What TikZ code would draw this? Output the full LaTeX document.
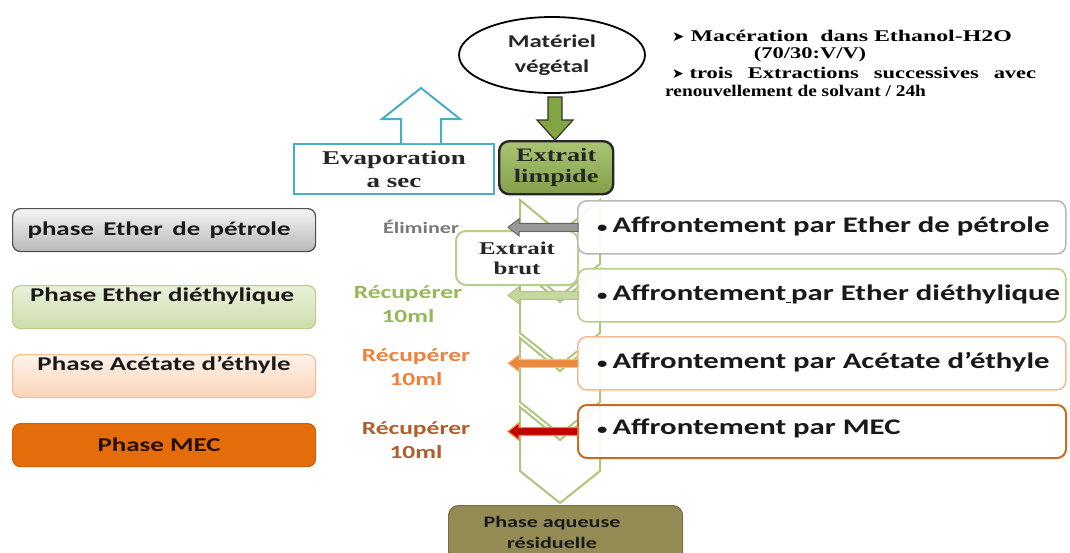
\documentclass[tikz,border=0pt]{standalone}
\usepackage{fontspec}
\usetikzlibrary{shapes.geometric,calc}
\newfontfamily\calfont[FakeStretch=1.38]{Carlito}
\newfontfamily\tnrfont[FakeStretch=1.38]{Liberation Serif}
\newfontfamily\symfont{DejaVu Sans}
\newcommand\myfs[2]{\fontsize{#1}{#2}\selectfont}
\newcommand\pointer{{\symfont\myfs{14}{14}➤}}
\definecolor{chevg}{RGB}{172,198,122}
\definecolor{lgreen}{RGB}{183,207,135}
\definecolor{teal}{RGB}{75,172,198}
\definecolor{oliveg}{RGB}{155,187,89}
\definecolor{oliveb}{RGB}{148,138,84}
\definecolor{orng}{RGB}{228,108,10}
\definecolor{peach}{RGB}{246,188,145}
\definecolor{greytxt}{RGB}{120,120,120}
\definecolor{greentxt}{RGB}{150,185,85}
\definecolor{orangetxt}{RGB}{240,128,60}
\definecolor{browntxt}{RGB}{175,95,45}
\definecolor{arrgreen}{RGB}{130,165,65}
\newcommand\blockarrow[3]{%
  \path[#3] ($(#1.west)+(1,-4)$) -- ($(#2)+(11,-4)$) -- ($(#2)+(11,-8.5)$) -- (#2)
    -- ($(#2)+(11,8.5)$) -- ($(#2)+(11,4)$) -- ($(#1.west)+(1,4)$) -- cycle;}
\begin{document}
\begin{tikzpicture}[x=1pt,y=-1pt,
  chev/.style={draw=chevg,line width=2pt,fill=white},
  rbox/.style={draw,line width=1.6pt,fill=white,fill opacity=0.92,rounded corners=9pt,minimum width=488pt,minimum height=53pt,anchor=north west,inner sep=0pt},
  pbox/.style={draw,line width=1.2pt,rounded corners=8pt,minimum width=303pt,minimum height=43pt,anchor=north west,inner sep=0pt},
  caltxt/.style={font=\calfont\bfseries\myfs{19.5}{22},text=black!90,inner sep=0pt},
  afftxt/.style={font=\calfont\bfseries\myfs{22.3}{26},text=black!90,anchor=west,inner sep=0pt},
  midtxt/.style={font=\calfont\bfseries\myfs{18.5}{23.5},align=center,inner sep=0pt},
  sertxt/.style={font=\tnrfont\bfseries\myfs{16.3}{18},text=black,anchor=west,inner sep=0pt},
]
\useasboundingbox (0,0) rectangle (1070,552);
\clip (0,0) rectangle (1070,552);
\fill[white] (0,0) rectangle (1070,552);

% top ellipse
\node[ellipse,draw,line width=1.8pt,fill=white,minimum width=186pt,minimum height=76pt,inner sep=0pt,
      font=\calfont\bfseries\myfs{18}{25},text=black!85,align=center] (mat) at (552,55) {Matériel\\végétal};

% side text
\node[sertxt] (l1) at (672,36) {\scalebox{1.06}[1]{\pointer\ Macération\ \ dans Ethanol-H2O}};
\node[sertxt,anchor=center] (l2) at (810,55) {(70/30:V/V)};
\node[sertxt] (l3) at (672,73) {\makebox[364pt][s]{\pointer\ trois\hfill Extractions\hfill successives\hfill avec}};
\node[sertxt] (l4) at (665,91) {\scalebox{0.86}[1]{renouvellement de solvant / 24h}};

% extrait limpide
\node[draw=black!85,line width=2.4pt,rounded corners=10pt,top color=oliveg!85!white,bottom color=oliveg!85!black,
      minimum width=114pt,minimum height=53pt,inner sep=0pt,anchor=north west,
      font=\tnrfont\bfseries\myfs{19}{21},text=black!85,align=center] (lim) at (498,140) {Extrait\\limpide};

% down arrow
\coordinate (dtop) at (555,97);
\path[fill=arrgreen,draw=black!80,line width=1.2pt]
  ($(dtop)+(-7,0)$) -- ($(dtop)+(7,0)$) -- ($(dtop)+(7,23)$) -- ($(dtop)+(18,23)$)
  -- (lim.north -| dtop) -- ($(dtop)+(-18,23)$) -- ($(dtop)+(-7,23)$) -- cycle;

% evaporation
\node[draw=teal,line width=2pt,fill=white,minimum width=200pt,minimum height=50pt,inner sep=0pt,anchor=north west,
      font=\tnrfont\bfseries\myfs{19.5}{23},text=black!85,align=center] (eva) at (293,143) {Evaporation\\a sec};
\coordinate (etip) at (421,88);
\path[draw=teal,line width=2pt,fill=white]
  ($(eva.north -| etip)+(-20,0)$) -- ($(etip)+(-20,31)$) -- ($(etip)+(-39,31)$) -- (etip)
  -- ($(etip)+(39,31)$) -- ($(etip)+(20,31)$) -- ($(eva.north -| etip)+(20,0)$);

% chevrons
\foreach \r in {222,291,360,429}{
  \draw[chev] (520,\r-22) -- (560,\r+11) -- (600,\r-22) -- (600,\r+42) -- (560,\r+74) -- (520,\r+42) -- cycle;
}

% extrait brut
\node[draw=lgreen,line width=2pt,fill=white,rounded corners=10pt,minimum width=122pt,minimum height=54pt,inner sep=0pt,anchor=north west,
      font=\tnrfont\bfseries\myfs{18}{20},text=black!85,align=center] (brut) at (455,230) {Extrait\\brut};

% right boxes
\node[rbox,draw=black!28] (b1) at (577,200) {};
\node[rbox,draw=lgreen] (b2) at (577,268) {};
\node[rbox,draw=peach] (b3) at (577,336) {};
\node[rbox,draw=orng!85!black!90,line width=2pt] (b4) at (577,404) {};
\newcommand\bul{{\myfs{15}{15}•}\hspace{5pt}}
\node[afftxt] (a1) at ($(b1.west)+(20,-1)$) {\bul Affrontement par Ether de pétrole};
\node[afftxt] (a2) at ($(b2.west)+(20,-1)$) {\bul Affrontement\rule[-2.5pt]{5pt}{1.2pt}par Ether diéthylique};
\node[afftxt] (a3) at ($(b3.west)+(20,-1)$) {\bul Affrontement par Acétate d’éthyle};
\node[afftxt] (a4) at ($(b4.west)+(20,-3)$) {\bul Affrontement par MEC};

% arrows
\coordinate (t1) at ([xshift=-69pt]b1.west);
\coordinate (t2) at ([xshift=-69pt]b2.west);
\coordinate (t3) at ([xshift=-69pt]b3.west);
\coordinate (t4) at ([xshift=-69pt]b4.west);
\blockarrow{b1}{t1}{fill=black!40,draw=black!60,line width=1pt}
\blockarrow{b2}{t2}{fill=lgreen!80,draw=chevg,line width=1pt}
\blockarrow{b3}{t3}{fill=orng!80,draw=peach,line width=1pt}
\blockarrow{b4}{t4}{fill=red!75!black,draw=orng!80,line width=1.2pt}

% middle labels
\node[midtxt,text=greytxt,font=\calfont\bfseries\myfs{16}{20}] (elim) at (421,227) {Éliminer};
\node[midtxt,text=greentxt] (rec1) at (408,304) {Récupérer\\10ml};
\node[midtxt,text=orangetxt] (rec2) at (416,367) {Récupérer\\10ml};
\node[midtxt,text=browntxt] (rec3) at (416,440) {Récupérer\\10ml};

% left phase boxes
\node[pbox,draw=black!70,top color=black!4,bottom color=black!28] (p1) at (12,208) {};
\node[pbox,draw=lgreen,top color=lgreen!30,bottom color=lgreen!70] (p2) at (12,285) {};
\node[pbox,draw=peach,top color=peach!18,bottom color=peach!65] (p3) at (12,354) {};
\node[pbox,draw=orng!90!black,fill=orng] (p4) at (12,423) {};
\node[caltxt] (p1t) at ($(p1.center)+(-5,0)$) {phase\, Ether\, de\, pétrole};
\node[caltxt] (p2t) at ($(p2.north)+(-2,11)$) {Phase Ether diéthylique};
\node[caltxt] (p3t) at ($(p3.north)+(0,11)$) {Phase Acétate d’éthyle};
\node[caltxt,text=black!85!orng] (p4t) at ($(p4.center)+(-5,0)$) {Phase MEC};

% residual
\node[draw=oliveb!80!black,line width=1.2pt,fill=oliveb,rounded corners=10pt,minimum width=234pt,minimum height=60pt,inner sep=0pt,anchor=north west] (res) at (448,505) {};
\node[font=\calfont\bfseries\myfs{16}{21},text=black!90,align=center,inner sep=0pt] (rest) at (552,532) {Phase aqueuse\\résiduelle};
\end{tikzpicture}
\end{document}
